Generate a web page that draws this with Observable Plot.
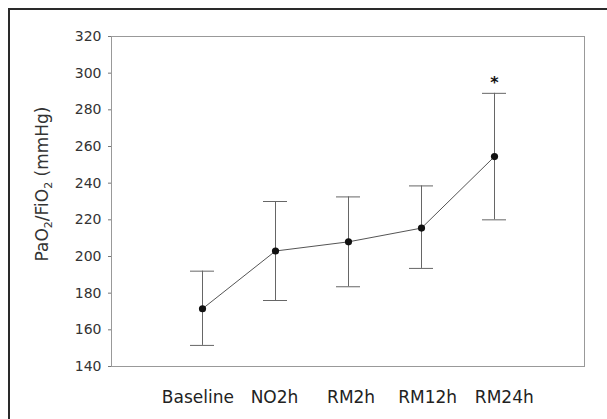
<!DOCTYPE html>
<html>
<head>
<meta charset="utf-8">
<script src="https://cdn.jsdelivr.net/npm/d3@7"></script>
<script src="https://cdn.jsdelivr.net/npm/@observablehq/plot@0.6"></script>
<style>
  html, body { margin: 0; padding: 0; background: #fff; }
  #wrap { position: relative; width: 607px; height: 419px; overflow: hidden; }
  #edge { position: absolute; left: 8px; top: 8px; right: -10px; bottom: -10px;
          border-left: 2px solid #2a2a2a; border-top: 2px solid #2a2a2a; pointer-events: none; }
</style>
</head>
<body>
<div id="wrap"><div id="edge"></div></div>
<script>
const categories = ["Baseline", "NO2h", "RM2h", "RM12h", "RM24h"];
const means = [171.5, 203, 208, 215.5, 254.5];
const lower = [151.5, 176, 183.5, 193.5, 220];
const upper = [192, 230, 232.5, 238.5, 289];
const marks = ["", "", "", "", "*"];
const yTicks = [140, 160, 180, 200, 220, 240, 260, 280, 300, 320];

const data = categories.map((c, i) => ({cat: c, mean: means[i], lo: lower[i], hi: upper[i], mark: marks[i]}));

// the category labels in the original sit on a slightly wider spacing than the points
const labelSpread = (i) => 2.6 + 3.6 * (i - 2);

const chart = Plot.plot({
  width: 607,
  height: 419,
  marginLeft: 111,
  marginRight: 23,
  marginTop: 36,
  marginBottom: 53,
  style: {fontFamily: "'DejaVu Sans', sans-serif", background: "transparent", color: "#333"},
  x: {type: "band", domain: categories, paddingInner: 0.674, paddingOuter: 1.045, label: null, axis: null},
  y: {domain: [140, 320], label: null},
  marks: [
    Plot.frame({stroke: "#999", strokeWidth: 1}),
    Plot.axisY({ticks: yTicks, tickSize: 3, tickPadding: 7, fontSize: 14, fill: "#333", stroke: "#777"}),
    ...categories.map((c, i) => Plot.axisX([c], {tickSize: 0, tickPadding: 24, fontSize: 17, fill: "#222", dx: labelSpread(i), label: null})),
    Plot.ruleX(data, {x: "cat", y1: "lo", y2: "hi", stroke: "#666", strokeWidth: 1}),
    Plot.tickY(data, {x: "cat", y: "lo", stroke: "#666", strokeWidth: 1}),
    Plot.tickY(data, {x: "cat", y: "hi", stroke: "#666", strokeWidth: 1}),
    Plot.line(data, {x: "cat", y: "mean", stroke: "#555", strokeWidth: 1}),
    Plot.dot(data, {x: "cat", y: "mean", r: 3.6, fill: "#111", stroke: "none"}),
    Plot.text(data, {x: "cat", y: "hi", text: "mark", dy: -10, fontSize: 16, fontWeight: "bold", fill: "#111"})
  ]
});

const svg = d3.select(chart);
const t = svg.append("text")
  .attr("transform", "translate(48,184) rotate(-90)")
  .attr("text-anchor", "middle")
  .attr("font-family", "'DejaVu Sans', sans-serif")
  .attr("font-size", 17)
  .attr("fill", "#333");
t.append("tspan").text("PaO");
t.append("tspan").attr("font-size", 11).attr("dy", 4).text("2");
t.append("tspan").attr("dy", -4).text("/FiO");
t.append("tspan").attr("font-size", 11).attr("dy", 4).text("2");
t.append("tspan").attr("dy", -4).text(" (mmHg)");

document.getElementById("wrap").prepend(chart);
</script>
</body>
</html>
